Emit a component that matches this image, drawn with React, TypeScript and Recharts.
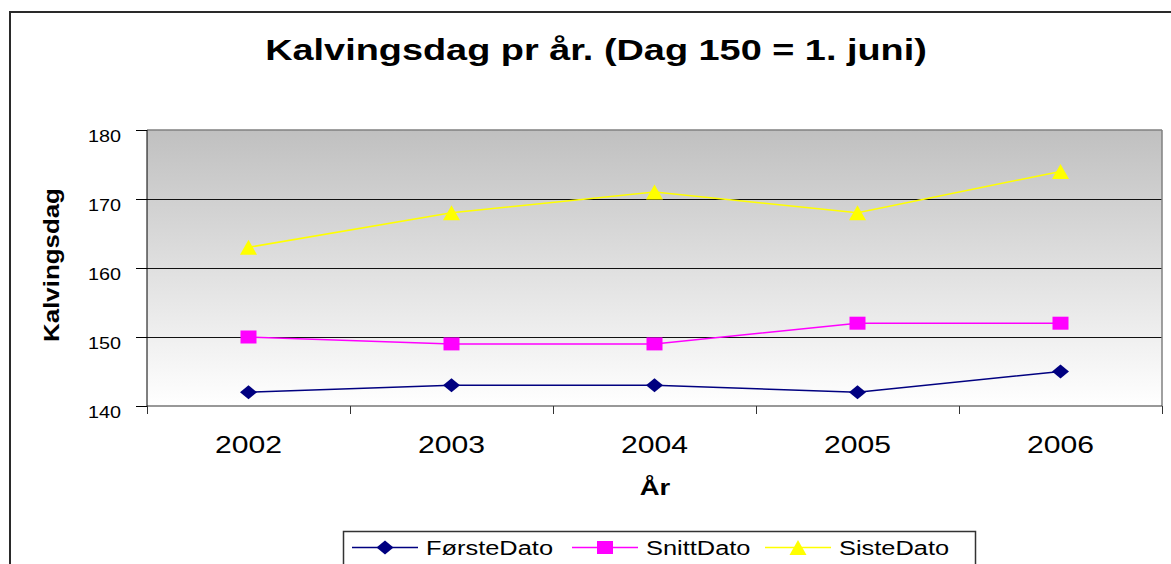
import React from 'react';
import { LineChart, Line, XAxis, YAxis, CartesianGrid, ReferenceLine } from 'recharts';

const years = ['2002', '2003', '2004', '2005', '2006'];
const forsteDato = [142, 143, 143, 142, 145];
const snittDato = [150, 149, 149, 152, 152];
const sisteDato = [163, 168, 171, 168, 174];
const yTicks = [140, 150, 160, 170, 180];
const gridValues = [150, 160, 170];

const titleText = 'Kalvingsdag pr år. (Dag 150 = 1. juni)';
const xTitle = 'År';
const yTitle = 'Kalvingsdag';

const seriesDefs = [
  { key: 'forste', name: 'FørsteDato', color: '#000080', shape: 'diamond' },
  { key: 'snitt', name: 'SnittDato', color: '#ff00ff', shape: 'square' },
  { key: 'siste', name: 'SisteDato', color: '#ffff00', shape: 'triangle' },
];

const data = years.map((year, i) => ({
  pos: i + 0.5,
  year,
  forste: forsteDato[i],
  snitt: snittDato[i],
  siste: sisteDato[i],
}));

const xTicks: number[] = [];
for (let i = 0; i <= years.length; i++) {
  xTicks.push(i);
  if (i < years.length) xTicks.push(i + 0.5);
}

const FONT = '"Liberation Sans", Arial, sans-serif';

function Marker({ shape, cx, cy, color }: { shape: string; cx: number; cy: number; color: string }) {
  if (shape === 'diamond') {
    return <path d={`M${cx},${cy - 7} L${cx + 8.5},${cy} L${cx},${cy + 7} L${cx - 8.5},${cy} Z`} fill={color} stroke="none" />;
  }
  if (shape === 'square') {
    return <rect x={cx - 8} y={cy - 6.5} width={16} height={13} fill={color} stroke="none" />;
  }
  return <path d={`M${cx},${cy - 7.5} L${cx + 8.5},${cy + 7.5} L${cx - 8.5},${cy + 7.5} Z`} fill={color} stroke="none" />;
}

const makeDot = (shape: string, color: string) => (props: any) => {
  const { cx, cy, index } = props;
  if (cx == null || cy == null) return <g key={`d-${index}`} />;
  return (
    <g key={`${shape}-${index}`}>
      <Marker shape={shape} cx={cx} cy={cy} color={color} />
    </g>
  );
};

const XTick = (props: any) => {
  const { x, y, payload } = props;
  const v = payload.value as number;
  if (Number.isInteger(v)) {
    return <line x1={x} x2={x} y1={y} y2={y + 8} stroke="#333" strokeWidth={1} shapeRendering="crispEdges" />;
  }
  const label = years[Math.floor(v)];
  return (
    <text
      transform={`translate(${x},${y + 46.5}) scale(1.23,1)`}
      textAnchor="middle"
      fontFamily={FONT}
      fontSize={24.5}
      fill="#000"
    >
      {label}
    </text>
  );
};

const YTick = (props: any) => {
  const { x, y, payload } = props;
  return (
    <g>
      <line x1={x - 11} x2={x} y1={y} y2={y} stroke="#000" strokeWidth={1} shapeRendering="crispEdges" />
      <text
        transform={`translate(${x - 26},${y + 11.7}) scale(1.2,1)`}
        textAnchor="end"
        fontFamily={FONT}
        fontSize={16.5}
        fill="#000"
      >
        {payload.value}
      </text>
    </g>
  );
};

const legendX = [352, 572, 765];

export default function App() {
  return (
    <div
      style={{
        position: 'absolute',
        left: 0,
        top: 0,
        width: 1171,
        height: 564,
        overflow: 'hidden',
        background: '#fff',
      }}
    >
      <svg width={0} height={0} style={{ position: 'absolute' }}>
        <defs>
          <linearGradient id="plotBg" x1="0" y1="0" x2="0" y2="1">
            <stop offset="0%" stopColor="#c0c0c0" />
            <stop offset="100%" stopColor="#ffffff" />
          </linearGradient>
        </defs>
      </svg>
      <div
        style={{
          position: 'absolute',
          left: 9,
          top: 11,
          width: 1300,
          height: 700,
          borderTop: '2px solid #2a2a2a',
          borderLeft: '2px solid #2a2a2a',
        }}
      />
      <div style={{ position: 'absolute', left: 0, top: 0 }}>
        <LineChart
          width={1171}
          height={564}
          data={data}
          margin={{ top: 130, right: 9, bottom: 98, left: 87 }}
        >
          <CartesianGrid
            horizontal={true}
            vertical={false}
            horizontalValues={gridValues}
            stroke="#111"
            strokeWidth={1}
            fill="url(#plotBg)"
            fillOpacity={1}
            shapeRendering="crispEdges"
          />
          <ReferenceLine y={180} stroke="#808080" strokeWidth={1.5} ifOverflow="visible" />
          <ReferenceLine x={years.length} stroke="#808080" strokeWidth={1.5} ifOverflow="visible" />
          <XAxis
            type="number"
            dataKey="pos"
            domain={[0, years.length]}
            ticks={xTicks}
            interval={0}
            tickSize={0}
            tickMargin={0}
            tickLine={false}
            axisLine={{ stroke: '#333', strokeWidth: 1.2 }}
            tick={<XTick />}
            height={60}
            allowDataOverflow
          />
          <YAxis
            type="number"
            domain={[140, 180]}
            ticks={yTicks}
            interval={0}
            tickSize={0}
            tickMargin={0}
            tickLine={false}
            axisLine={{ stroke: '#000', strokeWidth: 1 }}
            tick={<YTick />}
            width={60}
            allowDataOverflow
          />
          {seriesDefs.map((s) => (
            <Line
              key={s.key}
              type="linear"
              dataKey={s.key}
              name={s.name}
              stroke={s.color}
              strokeWidth={1.5}
              dot={makeDot(s.shape, s.color)}
              activeDot={false}
              isAnimationActive={false}
            />
          ))}
        </LineChart>
      </div>
      <svg
        width={1171}
        height={564}
        style={{ position: 'absolute', left: 0, top: 0, pointerEvents: 'none' }}
      >
        <text
          transform="translate(596,60) scale(1.25,1)"
          textAnchor="middle"
          fontFamily={FONT}
          fontWeight="bold"
          fontSize={30.3}
          fill="#000"
        >
          {titleText}
        </text>
        <text
          transform="translate(655,495) scale(1.25,1)"
          textAnchor="middle"
          fontFamily={FONT}
          fontWeight="bold"
          fontSize={22}
          fill="#000"
        >
          {xTitle}
        </text>
        <text
          transform="translate(59.2,265) rotate(-90) scale(1.14,1)"
          textAnchor="middle"
          fontFamily={FONT}
          fontWeight="bold"
          fontSize={22.7}
          fill="#000"
        >
          {yTitle}
        </text>
        <rect x={343.5} y={531.5} width={632} height={60} fill="#fff" stroke="#333" strokeWidth={1.5} />
        {seriesDefs.map((s, i) => {
          const lx = legendX[i];
          const cy = 547.5;
          return (
            <g key={s.key}>
              <line x1={lx} x2={lx + 66} y1={cy} y2={cy} stroke={s.color} strokeWidth={1.5} />
              <Marker shape={s.shape} cx={lx + 33} cy={cy} color={s.color} />
              <text
                transform={`translate(${lx + 74},${cy + 7.3}) scale(1.27,1)`}
                fontFamily={FONT}
                fontSize={20}
                fill="#000"
              >
                {s.name}
              </text>
            </g>
          );
        })}
      </svg>
    </div>
  );
}
